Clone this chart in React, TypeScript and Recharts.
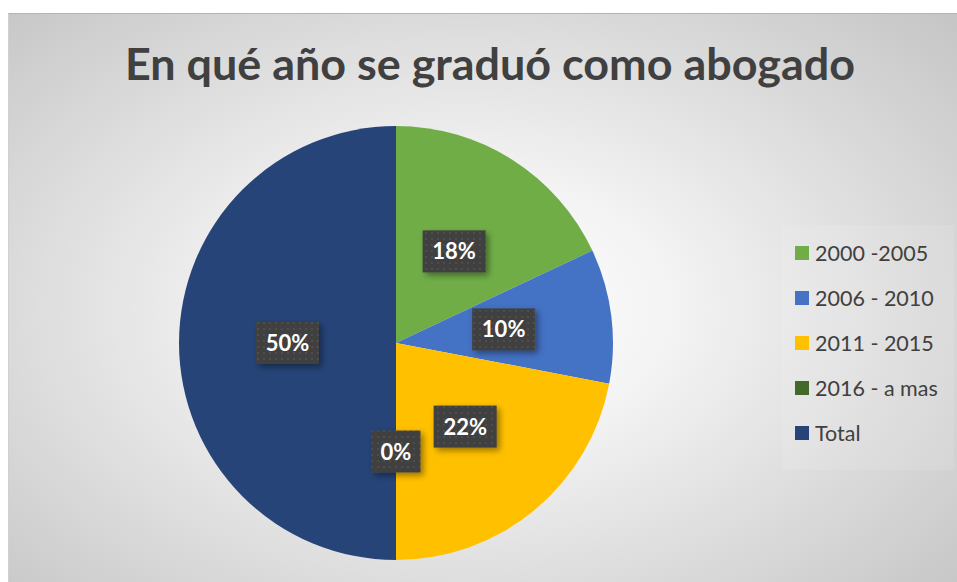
import { Cell, Legend, Pie, PieChart } from "recharts";

const categories = ["2000 -2005", "2006 - 2010", "2011 - 2015", "2016 - a mas", "Total"];
const values = [18, 10, 22, 0, 50];
const colors = ["#70AD47", "#4472C4", "#FFC000", "#43682B", "#264478"];
const title = "En qué año se graduó como abogado";

const data = categories.map((name, i) => ({ name, value: values[i] }));

const RAD = Math.PI / 180;

function renderLabel(props: any) {
  const { cx, cy, midAngle, outerRadius, percent } = props;
  const r = outerRadius * 0.5;
  const x = cx + r * Math.cos(-midAngle * RAD);
  const y = cy + r * Math.sin(-midAngle * RAD);
  const text = `${Math.round(percent * 100)}%`;
  const w = text.length <= 2 ? 49 : 63;
  const h = 42;
  return (
    <g>
      <rect x={x - w / 2} y={y - h / 2} width={w} height={h} fill="url(#dots)" filter="url(#lblShadow)" />
      <text
        x={x}
        y={y}
        dy={8}
        textAnchor="middle"
        fill="#ffffff"
        fontSize={22}
        fontWeight="bold"
        fontFamily="Lato, sans-serif"
      >
        {text}
      </text>
    </g>
  );
}

function renderLegend(props: any) {
  const items = props.payload || [];
  return (
    <div style={{ padding: "6px 0 0 0" }}>
      {items.map((it: any, i: number) => (
        <div key={i} style={{ height: 45, display: "flex", alignItems: "center" }}>
          <span style={{ width: 14, height: 14, background: it.color, display: "inline-block", marginRight: 6 }} />
          <span style={{ fontFamily: "Lato, sans-serif", fontSize: 21.5, color: "#404040" }}>{it.value}</span>
        </div>
      ))}
    </div>
  );
}

export default function App() {
  return (
    <div
      style={{
        position: "absolute",
        left: 8,
        top: 13,
        width: 949,
        height: 569,
        borderTop: "1px solid #b4b4b4",
        borderLeft: "1px solid #d0d0d0",
        boxSizing: "border-box",
        background: "radial-gradient(ellipse 70% 75% at 48% 52%, #ffffff 0%, #f4f4f4 30%, #c6c6c6 100%)",
        overflow: "hidden",
      }}
    >
      <svg width={949} height={100} style={{ position: "absolute", left: 0, top: 0 }}>
        <text
          x={481}
          y={66}
          textAnchor="middle"
          fontFamily="Lato, sans-serif"
          fontWeight="bold"
          fontSize={43}
          fill="#404040"
          textLength={730}
          lengthAdjust="spacingAndGlyphs"
        >
          {title}
        </text>
      </svg>
      <div
        style={{
          position: "absolute",
          left: 773,
          top: 211,
          width: 172,
          height: 245,
          background: "rgba(255,255,255,0.1)",
        }}
      />
      <div style={{ position: "absolute", left: 0, top: 0 }}>
        <PieChart width={947} height={567} margin={{ top: 0, right: 0, bottom: 0, left: 0 }}>
          <defs>
            <pattern id="dots" width="6" height="6" patternUnits="userSpaceOnUse">
              <rect width="6" height="6" fill="#3f3f3f" />
              <rect x="2" y="2" width="2" height="2" fill="#4d4d4d" />
            </pattern>
            <filter id="lblShadow" x="-30%" y="-30%" width="160%" height="160%">
              <feDropShadow dx="3" dy="3" stdDeviation="3" floodColor="#000" floodOpacity="0.4" />
            </filter>
          </defs>
          <Pie
            data={data}
            dataKey="value"
            nameKey="name"
            cx={387}
            cy={329}
            outerRadius={217}
            startAngle={90}
            endAngle={-270}
            stroke="none"
            label={renderLabel}
            labelLine={false}
            isAnimationActive={false}
          >
            {data.map((d, i) => (
              <Cell key={d.name} fill={colors[i]} />
            ))}
          </Pie>
          <Legend
            layout="vertical"
            align="right"
            verticalAlign="top"
            wrapperStyle={{ left: 786, top: 210, width: 160 }}
            content={renderLegend}
          />
        </PieChart>
      </div>
    </div>
  );
}
